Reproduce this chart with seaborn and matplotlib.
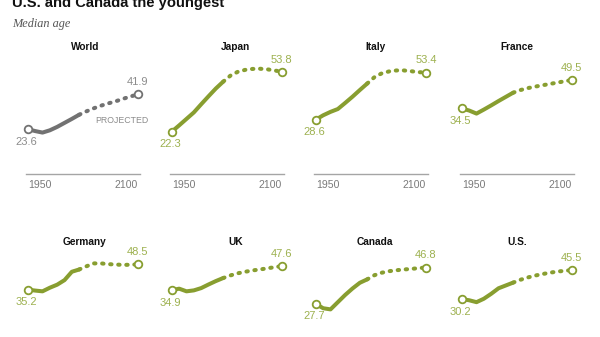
import matplotlib
matplotlib.use("Agg")
import matplotlib.pyplot as plt
import pandas as pd
import seaborn as sns

# Median age by decade, 1950-2100 (values after 2020 are projections)
YEARS = [1950, 1960, 1970, 1980, 1990, 2000, 2010, 2020,
         2030, 2040, 2050, 2060, 2070, 2080, 2090, 2100]
LAST_OBSERVED = 2020

WORLD = [23.6, 22.6, 21.8, 23.0, 24.8, 26.9, 29.0, 31.2,
         33.0, 34.6, 36.0, 37.2, 38.3, 39.6, 40.8, 41.9]
JAPAN = [22.3, 25.6, 29.0, 32.4, 36.7, 40.9, 45.0, 48.6,
         51.8, 53.8, 54.8, 55.3, 55.4, 55.1, 54.5, 53.8]
ITALY = [28.6, 30.9, 32.7, 34.2, 37.4, 40.7, 44.2, 47.6,
         51.0, 53.0, 54.0, 54.5, 54.5, 54.1, 53.6, 53.4]
FRANCE = [34.5, 33.4, 31.8, 33.9, 36.1, 38.4, 40.6, 42.8,
          44.2, 45.2, 46.0, 46.7, 47.4, 48.1, 48.8, 49.5]
GERMANY = [35.2, 34.7, 34.3, 36.2, 37.8, 40.2, 44.6, 45.8,
           47.5, 49.0, 49.0, 48.6, 48.4, 48.2, 48.3, 48.5]
UK = [34.9, 35.7, 34.3, 34.8, 36.0, 37.9, 39.7, 41.3,
      42.7, 43.8, 44.6, 45.3, 45.8, 46.4, 47.0, 47.6]
CANADA = [27.7, 25.4, 24.8, 28.6, 32.4, 35.8, 38.8, 40.6,
          42.8, 44.1, 44.9, 45.4, 45.8, 46.1, 46.5, 46.8]
US = [30.2, 29.6, 28.6, 30.4, 33.0, 35.9, 37.4, 38.9,
      40.4, 41.6, 42.6, 43.4, 44.1, 44.7, 45.1, 45.5]

PANEL_NAMES = ["World", "Japan", "Italy", "France",
               "Germany", "UK", "Canada", "U.S."]
PANEL_SERIES = [WORLD, JAPAN, ITALY, FRANCE, GERMANY, UK, CANADA, US]
AXIS_LABELS = ["1950", "2100"]

GREEN = "#889e30"
GREEN_TEXT = "#9db14f"
GRAY = "#727272"
GRAY_TEXT = "#8c8c8c"

sns.set_theme(style="white")
plt.rcParams["font.family"] = ["Liberation Sans", "DejaVu Sans"]

W, H = 600, 337
fig = plt.figure(figsize=(W / 100, H / 100), dpi=100)
fig.patch.set_facecolor("white")

col_left = [26, 170, 314, 460]       # px, left edge of each column
row_base = [174, 356.5]              # px, baseline (age 0) of each row
ax_w, ax_h = 113.7, 114.0            # px
title_px = [46.5, 242.0]             # px, vertical centre of panel titles
title_nudge = [2, 9, 4.5, 0.5]       # px, horizontal title shift per column

fig.text(12 / W, 1 - 6.5 / H, "U.S. and Canada the youngest",
         fontsize=10.6, fontweight="bold", color="#111111",
         ha="left", va="baseline")
fig.text(12 / W, 1 - 24.5 / H, "Median age", family=["Liberation Serif"],
         fontstyle="italic", fontsize=8.8, color="#555555",
         ha="left", va="center")

for i, (name, vals) in enumerate(zip(PANEL_NAMES, PANEL_SERIES)):
    r, c = divmod(i, 4)
    ax = fig.add_axes([col_left[c] / W, 1 - row_base[r] / H, ax_w / W, ax_h / H])
    ax.set_facecolor("none")

    is_world = name == "World"
    lc = GRAY if is_world else GREEN
    tc = GRAY_TEXT if is_world else GREEN_TEXT

    df = pd.DataFrame({"year": YEARS, "age": vals})
    observed = df[df["year"] <= LAST_OBSERVED].assign(segment="Observed")
    projected = df[df["year"] >= LAST_OBSERVED].assign(segment="Projected")
    long = pd.concat([observed, projected], ignore_index=True)

    sns.lineplot(data=long, x="year", y="age", style="segment",
                 dashes={"Observed": "", "Projected": (0.35, 1.65)},
                 color=lc, linewidth=2.9, estimator=None,
                 legend=False, ax=ax)
    for ln in ax.lines:
        ln.set_solid_capstyle("round")
        ln.set_dash_capstyle("round")
        ln.set_clip_on(False)

    ends = df.iloc[[0, -1]]
    sns.scatterplot(data=ends, x="year", y="age", marker="o", s=30,
                    facecolor="white", edgecolor=lc, linewidth=1.3,
                    zorder=4, clip_on=False, legend=False, ax=ax)

    first, last = ends.iloc[0], ends.iloc[1]
    ax.annotate(f"{first['age']:.1f}", (first["year"], first["age"]),
                xytext=(-1, -9), textcoords="offset points",
                ha="center", va="center", fontsize=8, color=tc)
    ax.annotate(f"{last['age']:.1f}", (last["year"], last["age"]),
                xytext=(0, 8.8), textcoords="offset points",
                ha="center", va="center", fontsize=8, color=tc)

    if is_world:
        ax.text(2078, 28.4, "PROJECTED", ha="center", va="center",
                fontsize=6.3, color=GRAY_TEXT)

    ax.text(0.5 + title_nudge[c] / ax_w, (row_base[r] - title_px[r]) / ax_h,
            name, transform=ax.transAxes, ha="center", va="center",
            fontsize=7.3, fontweight="bold", color="#111111", clip_on=False)

    ax.set_xlim(1947.5, 2102.5)
    ax.set_ylim(0, 60)
    ax.set_xlabel("")
    ax.set_ylabel("")
    ax.set_yticks([])
    ax.tick_params(axis="x", length=0, pad=4)
    if r == 0:
        # Year axis for the top row; the lower row's axis falls below the frame
        ax.set_xticks([YEARS[0], YEARS[-1]])
        ax.set_xticklabels(AXIS_LABELS, fontsize=7.6, color="#7a7a7a")
        labels = ax.get_xticklabels()
        labels[0].set_ha("left")
        labels[1].set_ha("right")
    else:
        ax.set_xticks([])
    sns.despine(ax=ax, left=True)
    ax.spines["bottom"].set_color("#a5a5a5")
    ax.spines["bottom"].set_linewidth(1.0)

fig.savefig("out.png", dpi=100, facecolor="white")
